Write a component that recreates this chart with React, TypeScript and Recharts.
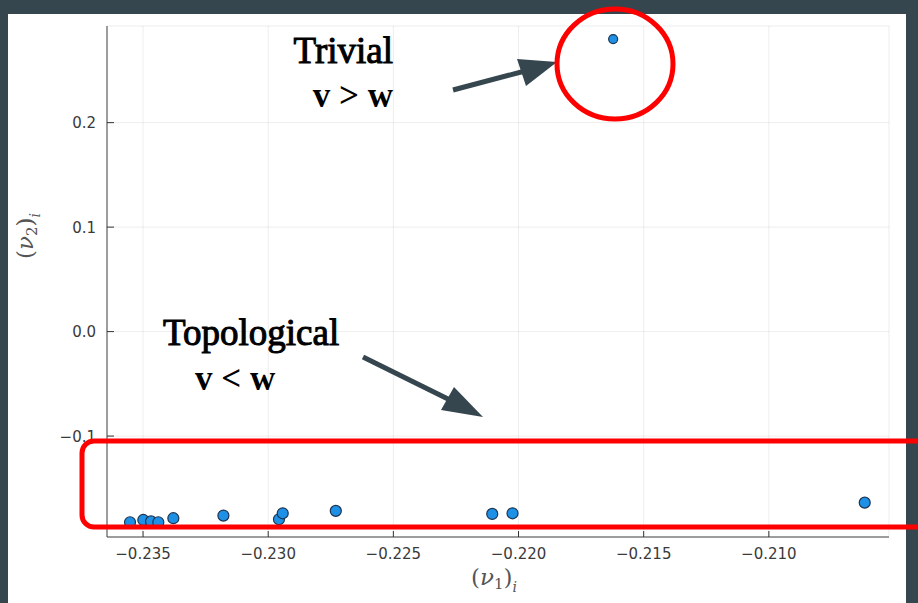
import React from 'react';
import { ScatterChart, Scatter, XAxis, YAxis, CartesianGrid } from 'recharts';

// eigenvector components (nu1, nu2)
const topological = [
  { x: -0.23552, y: -0.1825 },
  { x: -0.23499, y: -0.1803 },
  { x: -0.23468, y: -0.1817 },
  { x: -0.23439, y: -0.1825 },
  { x: -0.23379, y: -0.1786 },
  { x: -0.23179, y: -0.1761 },
  { x: -0.22957, y: -0.1796 },
  { x: -0.22942, y: -0.1739 },
  { x: -0.2273, y: -0.1716 },
  { x: -0.22105, y: -0.1745 },
  { x: -0.22024, y: -0.1739 },
  { x: -0.20617, y: -0.1637 },
];
const trivial = [{ x: -0.21622, y: 0.28 }];

const xTicks = [-0.235, -0.23, -0.225, -0.22, -0.215, -0.21];
const yTicks = [-0.1, 0.0, 0.1, 0.2];

const fmt = (v: number, d: number) => v.toFixed(d).replace('-', '\u2212');

const XTick = (props: any) => {
  const { x, y, payload } = props;
  return (
    <g>
      <line x1={x} y1={y} x2={x} y2={y - 6} stroke="#333" />
      <text x={x} y={y + 22} textAnchor="middle" fontSize={15} fill="#3a3a3a" fontFamily="DejaVu Sans">
        {fmt(payload.value, 3)}
      </text>
    </g>
  );
};

const YTick = (props: any) => {
  const { x, y, payload } = props;
  return (
    <g>
      <line x1={x} y1={y} x2={x + 7} y2={y} stroke="#333" />
      <text x={x - 11} y={y + 5.5} textAnchor="end" fontSize={15} fill="#3a3a3a" fontFamily="DejaVu Sans">
        {fmt(payload.value, 1)}
      </text>
    </g>
  );
};

const Dot = (r: number) => (props: any) => (
  <circle cx={props.cx} cy={props.cy} r={r} fill="#1e90e6" stroke="#1c3550" strokeWidth={1.2} />
);

export default function App() {
  return (
    <div style={{ position: 'absolute', left: 0, top: 0, width: 918, height: 603, background: '#36464f', overflow: 'hidden' }}>
      <div style={{ position: 'absolute', left: 8, top: 14, width: 898, height: 589, background: '#fff' }} />
      <div style={{ position: 'absolute', left: 0, top: 0 }}>
        <ScatterChart width={918} height={603} margin={{ top: 26, right: 29, bottom: 26, left: 57 }}>
          <CartesianGrid stroke="#000" strokeOpacity={0.07} />
          <XAxis
            type="number"
            dataKey="x"
            domain={[-0.23644, -0.2052]}
            ticks={xTicks}
            height={40}
            tickSize={0}
            tickMargin={0}
            tickLine={false}
            tick={<XTick />}
            axisLine={{ stroke: '#444' }}
            allowDataOverflow
          />
          <YAxis
            type="number"
            dataKey="y"
            domain={[-0.1966, 0.2925]}
            ticks={yTicks}
            width={50}
            tickSize={0}
            tickMargin={0}
            tickLine={false}
            tick={<YTick />}
            axisLine={{ stroke: '#444' }}
            allowDataOverflow
          />
          <Scatter data={topological} shape={Dot(5.5)} isAnimationActive={false} />
          <Scatter data={trivial} shape={Dot(4.5)} isAnimationActive={false} />
        </ScatterChart>
      </div>
      <svg width={918} height={603} style={{ position: 'absolute', left: 0, top: 0, pointerEvents: 'none' }}>
        <text x={494} y={585} textAnchor="middle" fontSize={23} fill="#555" fontFamily="DejaVu Serif">
          (<tspan fontStyle="italic">ν</tspan>
          <tspan fontSize={15} dy={4}>1</tspan>
          <tspan dy={-4}>)</tspan>
          <tspan fontSize={14} dy={7} fontStyle="italic">i</tspan>
        </text>
        <text transform="translate(33,236) rotate(-90)" textAnchor="middle" fontSize={23} fill="#555" fontFamily="DejaVu Serif">
          (<tspan fontStyle="italic">ν</tspan>
          <tspan fontSize={15} dy={4}>2</tspan>
          <tspan dy={-4}>)</tspan>
          <tspan fontSize={14} dy={7} fontStyle="italic">i</tspan>
        </text>

        <text x={393} y={63} textAnchor="end" fontSize={37} fill="#000" stroke="#000" strokeWidth={1} fontFamily="Liberation Serif">Trivial</text>
        <text x={393} y={107} textAnchor="end" fontSize={35} fontWeight="bold" fill="#000" fontFamily="Liberation Serif">v &gt; w</text>
        <text x={163} y={345} fontSize={37} fill="#000" stroke="#000" strokeWidth={1} fontFamily="Liberation Serif">Topological</text>
        <text x={195} y={390} fontSize={35} fontWeight="bold" fill="#000" fontFamily="Liberation Serif">v &lt; w</text>

        <line x1={453} y1={90} x2={525} y2={71} stroke="#36464f" strokeWidth={5} />
        <polygon points="557,62 517,59 526,86" fill="#36464f" />
        <line x1={363} y1={357} x2={450} y2={400} stroke="#36464f" strokeWidth={5} />
        <polygon points="483,417 441,410 454,387" fill="#36464f" />

        <ellipse cx={615} cy={64} rx={58} ry={55} fill="none" stroke="#ff0000" strokeWidth={5} />
        <rect x={82} y={441} width={850} height={86} rx={12} ry={12} fill="none" stroke="#ff0000" strokeWidth={5} />
      </svg>
    </div>
  );
}
